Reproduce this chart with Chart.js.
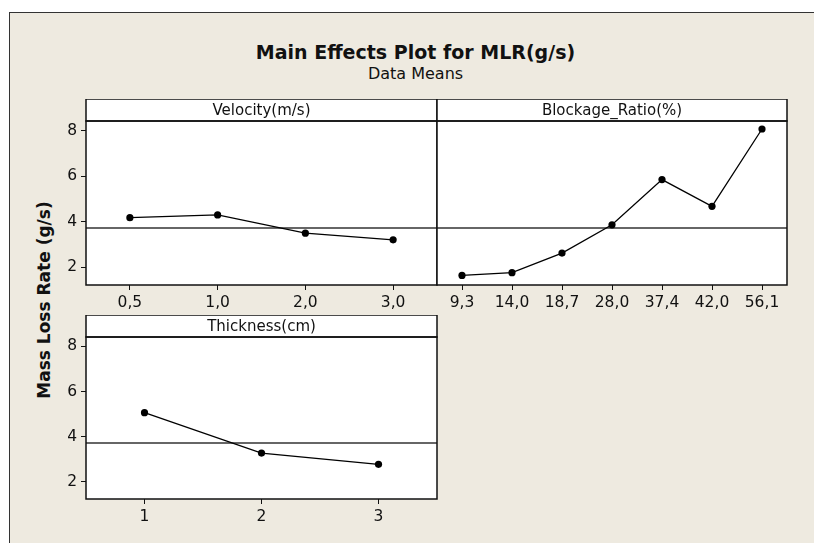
<!DOCTYPE html>
<html>
<head>
<meta charset="utf-8">
<title>Main Effects Plot for MLR(g/s)</title>
<script src="https://cdn.jsdelivr.net/npm/chart.js@4.4.1/dist/chart.umd.min.js"></script>
<style>
body { margin: 0; background: #fff; }
#page { position: relative; width: 814px; height: 543px; overflow: hidden; font-family: "DejaVu Sans", sans-serif; color: #111; }
#frame { position: absolute; left: 9px; top: 12px; width: 900px; height: 600px; background: #eeeae0; border-left: 1px solid #333; border-top: 1px solid #333; }
#title { position: absolute; left: 0; width: 831px; top: 41px; line-height: 22px; text-align: center; font-size: 19px; font-weight: bold; }
#subtitle { position: absolute; left: 0; width: 831px; top: 64px; line-height: 20px; text-align: center; font-size: 16px; }
#ytitle { position: absolute; left: -106px; top: 290px; width: 300px; line-height: 20px; text-align: center; font-size: 17px; font-weight: bold; transform: rotate(-90deg); }
.box { position: absolute; }
</style>
</head>
<body>
<div id="page">
  <div id="frame"></div>
  <div id="title">Main Effects Plot for MLR(g/s)</div>
  <div id="subtitle">Data Means</div>
  <div id="ytitle">Mass Loss Rate (g/s)</div>
  <div class="box" style="left:40px; top:99px;"><canvas id="velocity" width="398" height="220"></canvas></div>
  <div class="box" style="left:436px; top:99px;"><canvas id="blockage" width="378" height="220"></canvas></div>
  <div class="box" style="left:40px; top:315px;"><canvas id="thickness" width="398" height="220"></canvas></div>
</div>
<script>
// factor levels and mean of the response at each level
const velocityLabels = ['0,5', '1,0', '2,0', '3,0'];
const velocityMeans = [4.18, 4.30, 3.50, 3.21];
const blockageLabels = ['9,3', '14,0', '18,7', '28,0', '37,4', '42,0', '56,1'];
const blockageMeans = [1.65, 1.77, 2.63, 3.87, 5.85, 4.68, 8.07];
const thicknessLabels = ['1', '2', '3'];
const thicknessMeans = [5.06, 3.27, 2.77];
const grandMean = 3.72; // overall data mean (reference line)
const yTicks = [2, 4, 6, 8];
const yMin = 1.23;
const yMax = 8.42;

const HEADER_H = 22;
const FONT = '"DejaVu Sans", sans-serif';

// white plot area, header strip, mean line and panel frame
const panelDecor = {
	id: 'panelDecor',
	beforeDraw(chart) {
		const a = chart.chartArea, ctx = chart.ctx;
		ctx.save();
		ctx.fillStyle = '#fff';
		ctx.fillRect(a.left, a.top - HEADER_H, a.right - a.left, a.bottom - a.top + HEADER_H);
		ctx.restore();
	},
	beforeDatasetsDraw(chart) {
		const a = chart.chartArea, ctx = chart.ctx;
		const y = Math.round(chart.scales.y.getPixelForValue(grandMean));
		ctx.save();
		ctx.strokeStyle = '#666';
		ctx.lineWidth = 2;
		ctx.beginPath();
		ctx.moveTo(a.left, y);
		ctx.lineTo(a.right, y);
		ctx.stroke();
		ctx.restore();
	},
	afterDraw(chart, args, opts) {
		const a = chart.chartArea, ctx = chart.ctx;
		ctx.save();
		ctx.strokeStyle = '#111';
		ctx.lineWidth = 1.5;
		ctx.strokeRect(a.left, a.top, a.right - a.left, a.bottom - a.top);
		ctx.strokeRect(a.left, a.top - HEADER_H, a.right - a.left, HEADER_H);
		ctx.fillStyle = '#111';
		ctx.font = '15px ' + FONT;
		ctx.textAlign = 'center';
		ctx.textBaseline = 'middle';
		ctx.fillText(opts.header, (a.left + a.right) / 2, a.top - HEADER_H / 2 + 1);
		ctx.restore();
	}
};

function makePanel(id, header, labels, values, pad, yWidth, xHeight) {
	const ctx = document.getElementById(id).getContext('2d');
	return new Chart(ctx, {
		type: 'line',
		data: {
			labels: labels,
			datasets: [{
				data: values,
				borderColor: '#000',
				borderWidth: 1.3,
				pointRadius: 3.6,
				pointBackgroundColor: '#000',
				pointBorderWidth: 0,
				tension: 0
			}]
		},
		options: {
			responsive: false,
			animation: false,
			layout: { padding: pad, autoPadding: false },
			plugins: {
				legend: { display: false },
				tooltip: { enabled: false },
				panelDecor: { header: header }
			},
			scales: {
				x: {
					type: 'category',
					offset: true,
					grid: { offset: false, drawOnChartArea: false, tickLength: 5, color: '#111', lineWidth: 1 },
					border: { display: false },
					ticks: { font: { family: FONT, size: 15.5 }, color: '#111', padding: 4, maxRotation: 0, autoSkip: false },
					afterFit: function (s) { s.height = xHeight; }
				},
				y: {
					display: yWidth > 0,
					min: yMin,
					max: yMax,
					grid: { drawOnChartArea: false, tickLength: 5, color: '#111', lineWidth: 1 },
					border: { display: false },
					ticks: { font: { family: FONT, size: 15.5 }, color: '#111', padding: 4 },
					afterBuildTicks: function (s) { s.ticks = yTicks.map(function (v) { return { value: v }; }); },
					afterFit: function (s) { s.width = yWidth; }
				}
			}
		},
		plugins: [panelDecor]
	});
}

makePanel('velocity', 'Velocity(m/s)', velocityLabels, velocityMeans, { top: HEADER_H, right: 1, left: 0, bottom: 0 }, 46, 34);
makePanel('blockage', 'Blockage_Ratio(%)', blockageLabels, blockageMeans, { top: HEADER_H, right: 27, left: 1, bottom: 0 }, 0, 34);
makePanel('thickness', 'Thickness(cm)', thicknessLabels, thicknessMeans, { top: HEADER_H, right: 1, left: 0, bottom: 0 }, 46, 36);
</script>
</body>
</html>
